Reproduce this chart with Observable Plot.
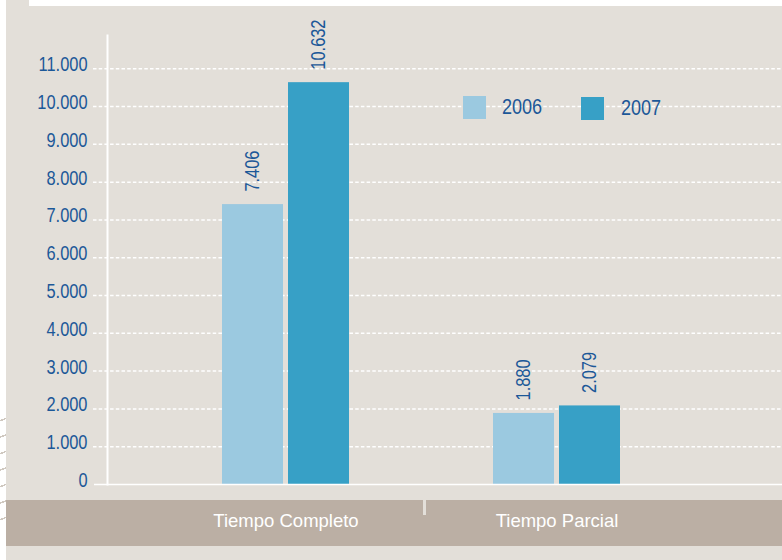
<!DOCTYPE html>
<html>
<head>
<meta charset="utf-8">
<script src="https://cdn.jsdelivr.net/npm/d3@7"></script>
<script src="https://cdn.jsdelivr.net/npm/@observablehq/plot@0.6"></script>
<style>
  html, body { margin: 0; padding: 0; background: #ffffff; }
  #wrap { position: relative; width: 782px; height: 560px; overflow: hidden; background: #ffffff; }
  .panel { position: absolute; background: #e3dfd9; }
  .band { position: absolute; background: #bbafa4; }
  .sep { position: absolute; background: #e3dfd9; }
  .hatch { position: absolute; background: repeating-linear-gradient(160deg, #ffffff 0px, #ffffff 14px, #cfc8c0 14px, #cfc8c0 15.5px); }
  #chart { position: absolute; left: 0; top: 0; }
  .legend { position: absolute; left: 0; top: 0; font-family: "Liberation Sans", Arial, sans-serif; color: #1c5898; font-size: 22px; }
  .sw { position: absolute; width: 23px; height: 23px; }
  .lt { position: absolute; line-height: 24px; transform: scaleX(0.82); transform-origin: left center; white-space: nowrap; }
</style>
</head>
<body>
<div id="wrap">
  <div class="panel" style="left:6px;top:6px;width:776px;height:554px;"></div>
  <div class="panel" style="left:6px;top:0px;width:23px;height:6px;"></div>
  <div class="hatch" style="left:0px;top:405px;width:6px;height:120px;"></div>
  <div class="band" style="left:6px;top:500px;width:776px;height:46px;"></div>
  <div class="sep" style="left:423px;top:500px;width:3px;height:15px;"></div>
  <div id="chart"></div>
  <div class="legend" id="legend"></div>
</div>
<script>
const categories = ["Tiempo Completo", "Tiempo Parcial"];
const years = ["2006", "2007"];
const values2006 = [7406, 1880];
const values2007 = [10632, 2079];
const yTicks = [0, 1000, 2000, 3000, 4000, 5000, 6000, 7000, 8000, 9000, 10000, 11000];
const colors = {"2006": "#9bc9e0", "2007": "#37a0c6"};

const rows = categories.flatMap((c, i) => [
  {category: c, year: "2006", value: values2006[i]},
  {category: c, year: "2007", value: values2007[i]}
]);
const rows2006 = rows.filter(d => d.year === "2006");
const rows2007 = rows.filter(d => d.year === "2007");

const locale = d3.formatLocale({decimal: ",", thousands: ".", grouping: [3], currency: ["", " €"]});
const fmt = locale.format(",d");

const sans = "'Liberation Sans', Arial, sans-serif";
const blue = "#1c5898";

const chart = Plot.plot({
  width: 782,
  height: 560,
  marginTop: 35,
  marginBottom: 76,
  marginLeft: 107,
  marginRight: 0,
  style: {background: "transparent", fontFamily: sans, fontSize: "20px"},
  x: {domain: categories, range: [150, 692], paddingInner: 0.531, paddingOuter: 0.2655, label: null},
  y: {domain: [0, 11880], label: null},
  marks: [
    Plot.ruleY(yTicks.slice(1), {stroke: "#ffffff", strokeWidth: 1.5, strokeDasharray: "3.5,2.2", insetLeft: -14}),
    Plot.frame({anchor: "left", stroke: "#ffffff", strokeWidth: 2}),
    Plot.barY(rows2006, {x: "category", y: "value", fill: colors["2006"], insetRight: 66}),
    Plot.barY(rows2007, {x: "category", y: "value", fill: colors["2007"], insetLeft: 66}),
    Plot.ruleY([0], {stroke: "#ffffff", strokeWidth: 1.6, insetLeft: -13}),
    Plot.text(rows2006, {x: "category", y: "value", text: d => fmt(d.value), rotate: -90, textAnchor: "start", lineAnchor: "middle", dx: -33, dy: -13, fill: blue, fontSize: 20}),
    Plot.text(rows2007, {x: "category", y: "value", text: d => fmt(d.value), rotate: -90, textAnchor: "start", lineAnchor: "middle", dx: 33, dy: -13, fill: blue, fontSize: 20}),
    Plot.axisY({ticks: yTicks, tickSize: 0, tickPadding: 20, tickFormat: fmt, fill: blue, fontSize: 20, dy: -4, label: null}),
    Plot.axisX({tickSize: 0, tickPadding: 29, fill: "#ffffff", fontSize: 18.5, fontFamily: sans, label: null})
  ]
});
document.getElementById("chart").appendChild(chart);

// condensed look: compress the blue texts horizontally along their direction
const xAxisGroups = new Set(Array.from(chart.querySelectorAll('g[aria-label^="x-axis"]')));
chart.querySelectorAll("text").forEach(t => {
  let p = t.parentNode, inX = false;
  while (p && p !== chart) { if (xAxisGroups.has(p)) { inX = true; break; } p = p.parentNode; }
  if (inX) return;
  const len = t.getComputedTextLength();
  if (len > 0) {
    t.setAttribute("textLength", (len * 0.82).toFixed(2));
    t.setAttribute("lengthAdjust", "spacingAndGlyphs");
  }
});

const legend = document.getElementById("legend");
const legendPos = {"2006": {sx: 463, sy: 96, tx: 502}, "2007": {sx: 581, sy: 97, tx: 621}};
years.forEach(y => {
  const p = legendPos[y];
  const sw = document.createElement("div");
  sw.className = "sw";
  sw.style.left = p.sx + "px";
  sw.style.top = p.sy + "px";
  sw.style.background = colors[y];
  legend.appendChild(sw);
  const t = document.createElement("div");
  t.className = "lt";
  t.style.left = p.tx + "px";
  t.style.top = (p.sy - 1) + "px";
  t.textContent = y;
  legend.appendChild(t);
});
</script>
</body>
</html>
